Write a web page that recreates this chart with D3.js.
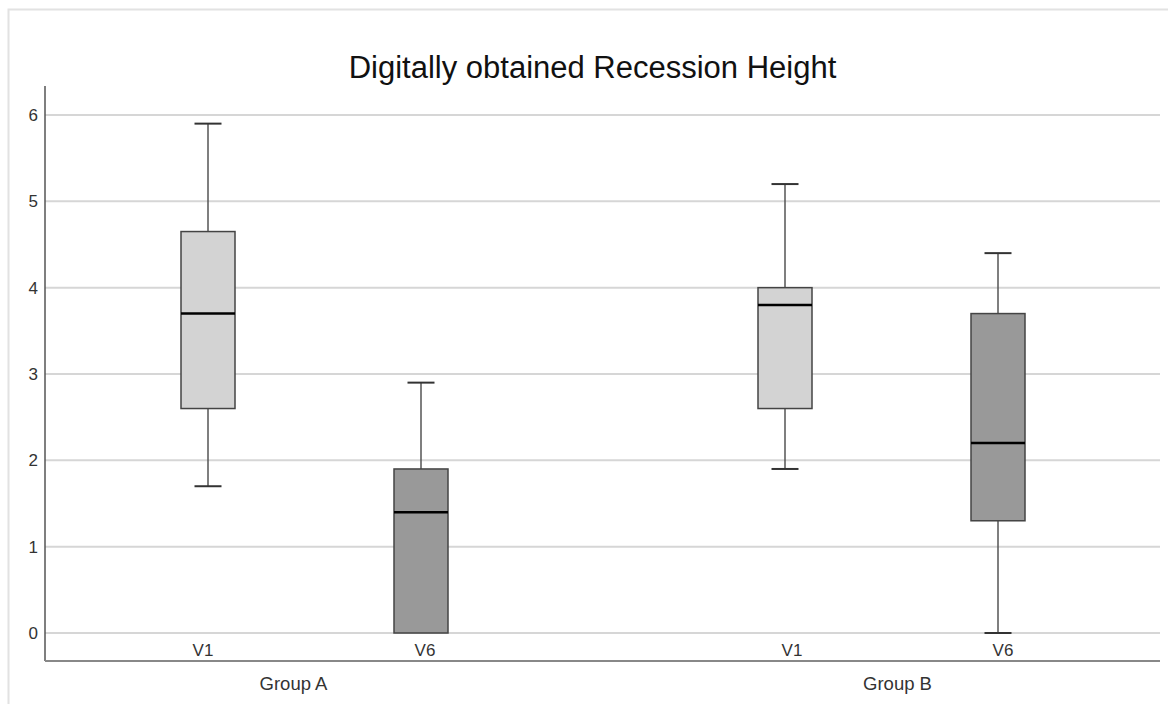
<!DOCTYPE html>
<html><head><meta charset="utf-8">
<script src="https://cdn.jsdelivr.net/npm/d3@7"></script>
<style>body{margin:0;background:#fff}svg{display:block}text{font-family:"Liberation Sans",Arial,sans-serif}</style>
</head><body><svg id="c" width="1168" height="704"></svg>
<script>
const groups = ["Group A", "Group B"];
const visits = ["V1", "V6"];
const minVals = [[1.7, 0], [1.9, 0]];
const q1Vals = [[2.6, 0], [2.6, 1.3]];
const medVals = [[3.7, 1.4], [3.8, 2.2]];
const q3Vals = [[4.65, 1.9], [4.0, 3.7]];
const maxVals = [[5.9, 2.9], [5.2, 4.4]];
const yTicks = [0, 1, 2, 3, 4, 5, 6];
const title = "Digitally obtained Recession Height";

(function () {
const svg = d3.select("#c");
const mLeft = 45, mRight = 1160, mTop = 86, mBottom = 661;
const y = d3.scaleLinear().domain([0, 6]).range([633, 115]);
const gx = d3.scalePoint().domain(groups).range([314.5, 891.5]);
const ix = d3.scaleBand().domain(visits).range([-213, 213]).paddingInner(0.5).paddingOuter(0.25);
const labelNudge = [[-5, 4], [7, 5]];
const groupNudge = [-21, 6];

svg.append("rect").attr("x", 8.5).attr("y", 9.5).attr("width", 1180).attr("height", 720)
  .attr("fill", "none").attr("stroke", "#e2e2e2").attr("stroke-width", 2);

svg.append("g").selectAll("line").data(yTicks).join("line")
  .attr("x1", mLeft).attr("x2", mRight).attr("y1", d => y(d)).attr("y2", d => y(d))
  .attr("stroke", "#d6d6d6").attr("stroke-width", 2);

const yAxis = d3.axisLeft(y).tickValues(yTicks).tickSize(0).tickPadding(7).tickFormat(d3.format("d"));
const ya = svg.append("g").attr("transform", `translate(${mLeft},0)`).call(yAxis);
ya.select(".domain").remove();
ya.selectAll("text").attr("font-size", 17).attr("fill", "#333").attr("font-family", '"Liberation Sans",Arial,sans-serif');
svg.append("line").attr("x1", mLeft).attr("x2", mLeft).attr("y1", mTop).attr("y2", mBottom)
  .attr("stroke", "#555").attr("stroke-width", 1.5);
svg.append("line").attr("x1", mLeft).attr("x2", mRight).attr("y1", mBottom).attr("y2", mBottom)
  .attr("stroke", "#888").attr("stroke-width", 2);

svg.append("text").attr("x", 592.5).attr("y", 78).attr("text-anchor", "middle")
  .attr("font-size", 31).attr("fill", "#111").text(title);

const fills = ["#d3d3d3", "#999999"];
const bw = 54, cap = 27;
groups.forEach((g, gi) => {
  const gg = svg.append("g").attr("transform", `translate(${gx(g)},0)`);
  visits.forEach((v, vi) => {
    const cx = ix(v) + ix.bandwidth() / 2;
    const b = gg.append("g");
    b.append("line").attr("x1", cx).attr("x2", cx).attr("y1", y(q3Vals[gi][vi])).attr("y2", y(maxVals[gi][vi]))
      .attr("stroke", "#555").attr("stroke-width", 1.5);
    b.append("line").attr("x1", cx).attr("x2", cx).attr("y1", y(q1Vals[gi][vi])).attr("y2", y(minVals[gi][vi]))
      .attr("stroke", "#555").attr("stroke-width", 1.5);
    b.append("line").attr("x1", cx - cap / 2).attr("x2", cx + cap / 2).attr("y1", y(maxVals[gi][vi])).attr("y2", y(maxVals[gi][vi]))
      .attr("stroke", "#333").attr("stroke-width", 2);
    if (minVals[gi][vi] < q1Vals[gi][vi])
      b.append("line").attr("x1", cx - cap / 2).attr("x2", cx + cap / 2).attr("y1", y(minVals[gi][vi])).attr("y2", y(minVals[gi][vi]))
        .attr("stroke", "#333").attr("stroke-width", 2);
    b.append("rect").attr("x", cx - bw / 2).attr("width", bw)
      .attr("y", y(q3Vals[gi][vi])).attr("height", y(q1Vals[gi][vi]) - y(q3Vals[gi][vi]))
      .attr("fill", fills[vi]).attr("stroke", "#444").attr("stroke-width", 1.5);
    b.append("line").attr("x1", cx - bw / 2).attr("x2", cx + bw / 2).attr("y1", y(medVals[gi][vi])).attr("y2", y(medVals[gi][vi]))
      .attr("stroke", "#000").attr("stroke-width", 2.5);
    b.append("text").attr("x", cx + labelNudge[gi][vi]).attr("y", 656).attr("text-anchor", "middle")
      .attr("font-size", 17).attr("fill", "#333").text(v);
  });
  gg.append("text").attr("x", groupNudge[gi]).attr("y", 690).attr("text-anchor", "middle")
    .attr("font-size", 18.5).attr("fill", "#333").text(g);
});
})();
</script></body></html>
